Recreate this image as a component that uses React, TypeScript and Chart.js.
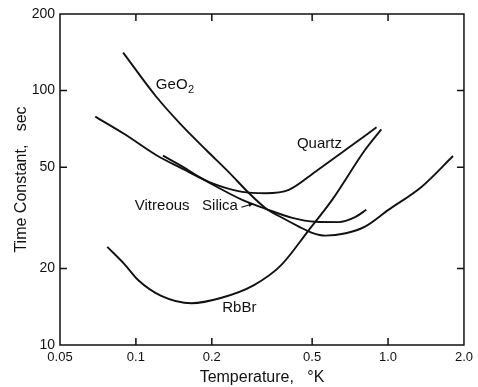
import React, { useEffect, useRef } from "react";
import { Chart, registerables } from "chart.js";

Chart.register(...registerables);

// Axis ticks
const xTickValues = [0.05, 0.1, 0.2, 0.5, 1.0, 2.0];
const xTickLabels = ["0.05", "0.1", "0.2", "0.5", "1.0", "2.0"];
const yTickValues = [10, 20, 50, 100, 200];
const yTickLabels = ["10", "20", "50", "100", "200"];

// Series: temperature (°K) and time constant (sec)
const geo2T = [0.089, 0.12, 0.15, 0.19, 0.235, 0.281, 0.327, 0.39, 0.443, 0.5, 0.564, 0.68, 0.81, 1.0, 1.36, 1.81];
const geo2Tau = [141, 95, 74, 58.4, 47.5, 39.5, 34.5, 31.2, 29.2, 27.6, 26.9, 27.5, 29.2, 33.9, 41.9, 55.3];

const quartzT = [0.069, 0.09, 0.124, 0.15, 0.2, 0.264, 0.327, 0.404, 0.515, 0.677, 0.9];
const quartzTau = [79, 67.5, 54.8, 49.8, 43.3, 40.0, 39.5, 40.7, 48, 58.4, 71.7];

const silicaT = [0.128, 0.15, 0.178, 0.21, 0.264, 0.327, 0.417, 0.515, 0.636, 0.74, 0.82];
const silicaTau = [55.5, 50.8, 45.8, 41.8, 37.2, 34.3, 31.6, 30.5, 30.4, 31.8, 34];

const rbbrT = [0.077, 0.09, 0.102, 0.126, 0.166, 0.217, 0.294, 0.375, 0.485, 0.6, 0.81, 0.94];
const rbbrTau = [24.3, 20.8, 18, 15.6, 14.6, 15.3, 17.2, 20.5, 28.3, 37.2, 58.4, 70.4];

// Curve labels (left edge, vertical middle) in data coordinates
const labelTexts = ["GeO", "Quartz", "Vitreous   Silica", "RbBr"];
const labelSubs = ["2", "", "", ""];
const labelT = [0.12, 0.435, 0.099, 0.22];
const labelTau = [105, 62, 35.2, 14.0];

// Arrow from "Silica" to its curve
const arrowT = [0.262, 0.292];
const arrowTau = [34.8, 35.9];

const FONT = "'Liberation Sans', Arial, sans-serif";

const toPts = (xs: number[], ys: number[]) => xs.map((x, i) => ({ x, y: ys[i] }));

const framePlugin = {
  id: "frame",
  afterDraw(chart: any) {
    const { ctx, chartArea } = chart;
    const xs = chart.scales.x;
    const ys = chart.scales.y;
    const { left, right, top, bottom } = chartArea;
    ctx.save();
    ctx.strokeStyle = "#111";
    ctx.lineWidth = 1.5;
    ctx.strokeRect(left, top, right - left, bottom - top);
    const tl = 7;
    ctx.beginPath();
    xTickValues.slice(1, -1).forEach((v) => {
      const px = xs.getPixelForValue(v);
      ctx.moveTo(px, bottom);
      ctx.lineTo(px, bottom - tl);
      ctx.moveTo(px, top);
      ctx.lineTo(px, top + tl);
    });
    yTickValues.slice(1, -1).forEach((v) => {
      const py = ys.getPixelForValue(v);
      ctx.moveTo(left, py);
      ctx.lineTo(left + tl, py);
      ctx.moveTo(right, py);
      ctx.lineTo(right - tl, py);
    });
    ctx.stroke();

    // curve labels
    ctx.fillStyle = "#111";
    ctx.textBaseline = "middle";
    ctx.textAlign = "left";
    labelTexts.forEach((t, i) => {
      const px = xs.getPixelForValue(labelT[i]);
      const py = ys.getPixelForValue(labelTau[i]);
      ctx.font = `15px ${FONT}`;
      ctx.fillText(t, px, py);
      if (labelSubs[i]) {
        const w = ctx.measureText(t).width;
        ctx.font = `11px ${FONT}`;
        ctx.fillText(labelSubs[i], px + w + 0.5, py + 5);
      }
    });

    // arrow
    const ax1 = xs.getPixelForValue(arrowT[0]);
    const ay1 = ys.getPixelForValue(arrowTau[0]);
    const ax2 = xs.getPixelForValue(arrowT[1]);
    const ay2 = ys.getPixelForValue(arrowTau[1]);
    ctx.lineWidth = 1.2;
    ctx.beginPath();
    ctx.moveTo(ax1, ay1);
    ctx.lineTo(ax2, ay2);
    ctx.stroke();
    const ang = Math.atan2(ay2 - ay1, ax2 - ax1);
    const hl = 5;
    ctx.beginPath();
    ctx.moveTo(ax2, ay2);
    ctx.lineTo(ax2 - hl * Math.cos(ang - 0.45), ay2 - hl * Math.sin(ang - 0.45));
    ctx.lineTo(ax2 - hl * Math.cos(ang + 0.45), ay2 - hl * Math.sin(ang + 0.45));
    ctx.closePath();
    ctx.fill();
    ctx.restore();
  },
};

export default function App() {
  const canvasRef = useRef<HTMLCanvasElement | null>(null);

  useEffect(() => {
    if (!canvasRef.current) return;
    const line = (xs: number[], ys: number[], label: string) => ({
      label,
      data: toPts(xs, ys),
      showLine: true,
      borderColor: "#111",
      borderWidth: 1.9,
      pointRadius: 0,
      fill: false,
      cubicInterpolationMode: "monotone" as const,
    });
    const chart = new Chart(canvasRef.current, {
      type: "scatter",
      data: {
        datasets: [
          line(geo2T, geo2Tau, "GeO2"),
          line(quartzT, quartzTau, "Quartz"),
          line(silicaT, silicaTau, "Vitreous Silica"),
          line(rbbrT, rbbrTau, "RbBr"),
        ],
      },
      options: {
        responsive: false,
        animation: false,
        layout: { padding: { top: 14, right: 12, left: 0, bottom: 0 } },
        plugins: { legend: { display: false }, tooltip: { enabled: false } },
        scales: {
          x: {
            type: "logarithmic",
            min: 0.05,
            max: 2.0,
            afterBuildTicks: (s: any) => {
              s.ticks = xTickValues.map((v) => ({ value: v }));
            },
            afterFit: (s: any) => {
              s.height = 42;
            },
            grid: { display: false, drawTicks: false },
            border: { display: false },
            ticks: {
              autoSkip: false,
              maxRotation: 0,
              padding: 5,
              color: "#111",
              font: { family: FONT, size: 13 },
              callback: (v: any) => {
                const i = xTickValues.findIndex((t) => Math.abs(t - Number(v)) < 1e-9);
                return i >= 0 ? xTickLabels[i] : "";
              },
            },
            title: {
              display: true,
              text: "Temperature,   °K",
              color: "#111",
              font: { family: FONT, size: 16 },
              padding: { top: 0, bottom: 0 },
            },
          },
          y: {
            type: "logarithmic",
            min: 10,
            max: 200,
            afterBuildTicks: (s: any) => {
              s.ticks = yTickValues.map((v) => ({ value: v }));
            },
            afterFit: (s: any) => {
              s.width = 60;
            },
            grid: { display: false, drawTicks: false },
            border: { display: false },
            ticks: {
              autoSkip: false,
              padding: 5,
              color: "#111",
              font: { family: FONT, size: 14 },
              callback: (v: any) => {
                const i = yTickValues.findIndex((t) => Math.abs(t - Number(v)) < 1e-9);
                return i >= 0 ? yTickLabels[i] : "";
              },
            },
            title: {
              display: true,
              text: "Time Constant,   sec",
              color: "#111",
              font: { family: FONT, size: 16 },
              padding: { top: 12, bottom: 0 },
            },
          },
        },
      },
      plugins: [framePlugin],
    });
    return () => chart.destroy();
  }, []);

  return (
    <div style={{ position: "fixed", left: 0, top: 0, width: 478, height: 387, background: "#fff" }}>
      <canvas ref={canvasRef} width={478} height={387} style={{ display: "block" }} />
    </div>
  );
}
